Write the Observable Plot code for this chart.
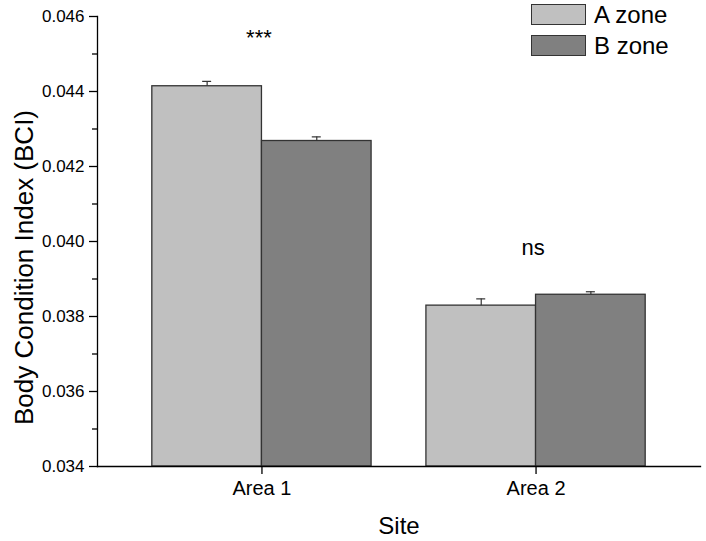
<!DOCTYPE html>
<html>
<head>
<meta charset="utf-8">
<script src="https://cdn.jsdelivr.net/npm/d3@7"></script>
<script src="https://cdn.jsdelivr.net/npm/@observablehq/plot@0.6"></script>
<style>
  html, body { margin: 0; padding: 0; background: #fff; }
  #wrap { position: relative; width: 706px; height: 541px; font-family: "Liberation Sans", Arial, sans-serif; }
  #legend { position: absolute; left: 531px; top: 4px; }
  .li { display: flex; align-items: center; height: 21px; margin-bottom: 10px; }
  .sw { width: 55px; height: 21px; border: 1.3px solid #333; box-sizing: border-box; margin-right: 8px; }
  .lt { font-size: 24px; color: #000; line-height: 21px; }
</style>
</head>
<body>
<div id="wrap"><div id="chart"></div><div id="legend"></div></div>
<script>
const sites = ["Area 1", "Area 2"];
const zones = ["A zone", "B zone"];
const valuesA = [0.04414, 0.03829];
const valuesB = [0.04268, 0.03858];
const errorsA = [0.00013, 0.00018];
const errorsB = [0.00011, 0.00008];
const zoneColors = ["#c0c0c0", "#808080"];
const yDomain = [0.034, 0.046];
const majorTicks = [0.034, 0.036, 0.038, 0.040, 0.042, 0.044, 0.046];
const minorTicks = [0.035, 0.037, 0.039, 0.041, 0.043, 0.045];
const annotations = ["***", "ns"];
const annotationY = [0.04543, 0.03983];

const W = 706, H = 541, mL = 97, mR = 6, mT = 16, mB = 75;
const pad = 0.2;
const step = (W - mL - mR) / (sites.length - pad + 2 * pad);
const bw = step * (1 - pad);

const rowsA = sites.map((s, i) => ({site: s, zone: zones[0], value: valuesA[i], err: errorsA[i]}));
const rowsB = sites.map((s, i) => ({site: s, zone: zones[1], value: valuesB[i], err: errorsB[i]}));
const notes = sites.map((s, i) => ({site: s, text: annotations[i], y: annotationY[i]}));
const capHalf = 4.5;
const barStroke = "#333";

const chart = Plot.plot({
  width: W, height: H,
  marginLeft: mL, marginRight: mR, marginTop: mT, marginBottom: mB,
  style: {fontFamily: "'Liberation Sans', Arial, sans-serif", color: "#000", background: "#fff"},
  x: {domain: sites, paddingInner: pad, paddingOuter: pad, round: false},
  y: {domain: yDomain},
  marks: [
    Plot.barY(rowsA, {x: "site", y1: yDomain[0], y2: "value", fill: zoneColors[0], stroke: barStroke, strokeWidth: 1.3, insetLeft: 0, insetRight: bw / 2}),
    Plot.barY(rowsB, {x: "site", y1: yDomain[0], y2: "value", fill: zoneColors[1], stroke: barStroke, strokeWidth: 1.3, insetLeft: bw / 2, insetRight: 0}),
    Plot.ruleX(rowsA, {x: "site", y1: "value", y2: d => d.value + d.err, dx: -bw / 4, stroke: barStroke, strokeWidth: 1.2}),
    Plot.ruleX(rowsB, {x: "site", y1: "value", y2: d => d.value + d.err, dx: bw / 4, stroke: barStroke, strokeWidth: 1.2}),
    Plot.tickY(rowsA, {x: "site", y: d => d.value + d.err, insetLeft: bw / 4 - capHalf, insetRight: 3 * bw / 4 - capHalf, stroke: barStroke, strokeWidth: 1.2}),
    Plot.tickY(rowsB, {x: "site", y: d => d.value + d.err, insetLeft: 3 * bw / 4 - capHalf, insetRight: bw / 4 - capHalf, stroke: barStroke, strokeWidth: 1.2}),
    Plot.text(notes, {x: "site", y: "y", text: "text", fontSize: 22, fill: "#000", dx: -3}),
    Plot.frame({anchor: "left", stroke: "#000", strokeWidth: 1.3}),
    Plot.frame({anchor: "bottom", stroke: "#000", strokeWidth: 1.3}),
    Plot.axisY({ticks: majorTicks, tickFormat: d3.format(".3f"), tickSize: 8, tickPadding: 5, fontSize: 17, label: null, strokeWidth: 1.3}),
    Plot.axisY({ticks: minorTicks, tickFormat: () => "", tickSize: 5, label: null, strokeWidth: 1.3}),
    Plot.axisX({tickSize: 8, tickPadding: 6, fontSize: 20, label: null, strokeWidth: 1.3}),
    Plot.text(["Body Condition Index (BCI)"], {frameAnchor: "left", textAnchor: "middle", rotate: -90, dx: -73, dy: 26, fontSize: 26, fill: "#000"}),
    Plot.text(["Site"], {frameAnchor: "bottom", lineAnchor: "middle", dy: 60, fontSize: 24, fill: "#000"})
  ]
});
document.getElementById("chart").appendChild(chart);

const legend = document.getElementById("legend");
zones.forEach((z, i) => {
  const item = document.createElement("div");
  item.className = "li";
  const sw = document.createElement("div");
  sw.className = "sw";
  sw.style.background = zoneColors[i];
  const t = document.createElement("span");
  t.className = "lt";
  t.textContent = z;
  item.appendChild(sw); item.appendChild(t);
  legend.appendChild(item);
});
</script>
</body>
</html>
